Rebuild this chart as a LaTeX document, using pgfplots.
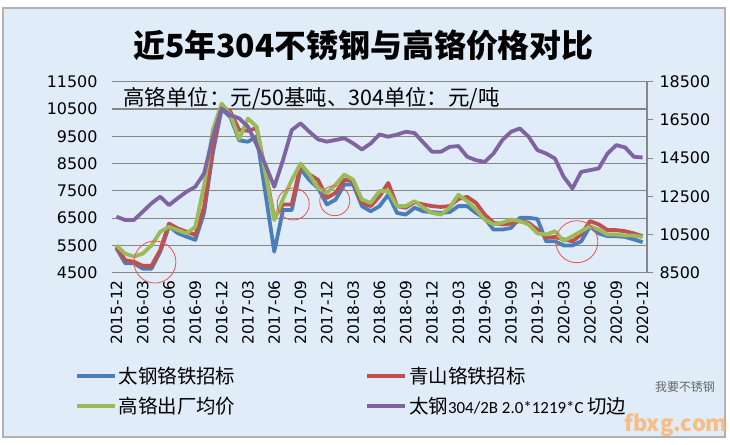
\documentclass[border=0pt]{standalone}
\usepackage{fontspec}
\usepackage{pgfplots}
\usepackage{pgfplotstable}
\pgfplotsset{compat=1.18}
\setmainfont{Noto Sans CJK SC}
\newfontfamily\tickfont{DejaVu Sans}
\newfontfamily\narrowfont{Carlito}

\definecolor{sBlue}{RGB}{74,126,187}
\definecolor{sRed}{RGB}{192,80,77}
\definecolor{sGreen}{RGB}{155,187,89}
\definecolor{sPurple}{RGB}{128,100,162}
\definecolor{bgBlue}{RGB}{224,236,248}
\definecolor{gridGray}{RGB}{134,134,134}
\definecolor{ringRed}{RGB}{240,80,80}

% i = months since 2015-12; blue/red/green on left axis, purple (304) on right axis
\pgfplotstableread{
i  blue  red   green purple
0  5400  5450  5500  11430
1  4850  4960  5200  11260
2  4850  4900  5090  11260
3  4650  4750  5200  11690
4  4650  4750  5500  12130
5  5270  5330  6000  12480
6  6200  6300  6180  12040
7  5950  6120  6060  12400
8  5820  6000  5940  12740
9  5700  5880  6180  13000
10 6700  6900  7700  13700
11 8900  9100  9730  15600
12 10500 10600 10700 17100
13 10200 10400 10300 16750
14 9350  9730  9400  16580
15 9300  9700  10150 16140
16 9500  9800  9850  15190
17 7400  8200  8140  14140
18 5270  6500  6430  13000
19 6800  7000  7200  14400
20 6800  7000  7900  15970
21 8300  8450  8500  16320
22 7900  8100  8100  15880
23 7600  7900  7600  15480
24 7000  7240  7420  15360
25 7180  7430  7730  15450
26 7730  7910  8100  15540
27 7730  7850  7910  15270
28 6940  7060  7180  14950
29 6750  6940  7060  15270
30 6940  7300  7490  15740
31 7360  7790  7490  15620
32 6690  6940  6940  15730
33 6630  6880  6940  15880
34 6880  7080  7120  15810
35 6750  7000  6880  15310
36 6720  6940  6690  14830
37 6690  6910  6630  14830
38 6720  6940  6880  15090
39 6940  7200  7360  15130
40 6940  7280  7120  14570
41 6690  7060  6820  14390
42 6500  6630  6450  14300
43 6080  6330  6270  14740
44 6080  6270  6330  15440
45 6140  6300  6450  15880
46 6510  6390  6390  16050
47 6510  6330  6270  15620
48 6470  6080  5940  14920
49 5650  5780  5900  14740
50 5650  5810  6020  14480
51 5500  5720  5660  13520
52 5500  5650  5840  12910
53 5650  5900  6020  13780
54 6200  6390  6200  13870
55 5940  6270  6080  13960
56 5840  6060  5900  14740
57 5840  6060  5900  15180
58 5810  6020  5860  15060
59 5720  5940  5860  14570
60 5620  5840  5810  14530
}\prices

\begin{document}
\begin{tikzpicture}
\useasboundingbox (0bp,0bp) rectangle (730bp,445bp);
\fill[white] (0bp,0bp) rectangle (730bp,445bp);
\filldraw[fill=bgBlue, draw=gray!60, line width=1.5bp] (3bp,8bp) rectangle (725bp,437bp);
\node[font=\bfseries\fontsize{32}{35}\selectfont] at (363.5bp,400bp) {近5年304不锈钢与高铬价格对比};

\begin{axis}[
  at={(112bp,172.3bp)}, anchor=south west,
  scale only axis, width=535bp, height=191bp,
  xmin=-0.5, xmax=60.5,
  ymin=4500, ymax=11500,
  ytick={4500,5500,...,11500},
  scaled y ticks=false,
  xtick={0,3,...,60},
  xticklabels={2015-12,2016-03,2016-06,2016-09,2016-12,2017-03,2017-06,2017-09,2017-12,2018-03,2018-06,2018-09,2018-12,2019-03,2019-06,2019-09,2019-12,2020-03,2020-06,2020-09,2020-12},
  /pgf/number format/assume math mode=true,
  /pgf/number format/set thousands separator={},
  ymajorgrids, grid style={gridGray, line width=1.1bp},
  axis x line*=bottom, axis y line*=left,
  y axis line style={draw=none},
  x axis line style={gridGray, line width=1.1bp},
  major tick length=0pt,
  yticklabel style={font=\tickfont\fontsize{16}{18}\selectfont, xshift=-11bp},
  xticklabel style={font=\tickfont\fontsize{15.5}{17}\selectfont, rotate=90, anchor=east, xshift=-4bp},
  clip mode=individual,
  legend columns=2,
  legend style={draw=none, fill=none, at={(-0.075,-0.47)}, anchor=north west,
    font=\fontsize{19.5}{22}\selectfont, row sep=8bp,
    /tikz/every even column/.append style={column sep=128bp}},
  legend cell align=left,
  legend image code/.code={\draw[#1] (0bp,0bp) -- (38bp,0bp);},
  line join=round,
]
\addplot[sBlue, line width=3.8bp] table[x=i, y=blue] {\prices};
\addlegendentry{太钢铬铁招标}
\addplot[sRed, line width=3.8bp] table[x=i, y=red] {\prices};
\addlegendentry{青山铬铁招标}
\addplot[sGreen, line width=3.8bp] table[x=i, y=green] {\prices};
\addlegendentry{高铬出厂均价}
\addlegendimage{sPurple, line width=3.8bp}
\addlegendentry{太钢{\narrowfont\fontsize{17}{20}\selectfont 304/2B 2.0*1219*C }切边}

\draw[ringRed, line width=0.8bp] (axis cs:4.39,4892) circle[radius=21bp];
\draw[ringRed, line width=0.8bp] (axis cs:20.16,7018) circle[radius=16bp];
\draw[ringRed, line width=0.8bp] (axis cs:24.9,7139) circle[radius=15bp];
\draw[ringRed, line width=0.8bp] (axis cs:52.5,5636) circle[radius=21bp];
\end{axis}

\begin{axis}[
  at={(112bp,172.3bp)}, anchor=south west,
  scale only axis, width=535bp, height=191bp,
  xmin=-0.5, xmax=60.5,
  ymin=8500, ymax=18500,
  ytick={8500,10500,...,18500},
  scaled y ticks=false,
  /pgf/number format/assume math mode=true,
  /pgf/number format/set thousands separator={},
  axis x line=none, axis y line*=right,
  y axis line style={gridGray, line width=1.1bp},
  ytick style={gridGray, line width=1.1bp},
  tick align=outside, major tick length=6bp,
  yticklabel style={font=\tickfont\fontsize{16}{18}\selectfont, xshift=3bp},
  line join=round,
]
\addplot[sPurple, line width=3.8bp] table[x=i, y=purple] {\prices};
\end{axis}

\node[anchor=west, font=\fontsize{21.5}{24}\selectfont] at (120bp,347bp) {高铬单位：元/50基吨、304单位：元/吨};
\node[font=\fontsize{12}{14}\selectfont, text=gray!80!black] at (685bp,58bp) {我要不锈钢};
\node[font=\bfseries\itshape\fontsize{22}{24}\selectfont, text=orange!60, opacity=0.8] at (676bp,20bp) {fbxg.com};
\end{tikzpicture}
\end{document}
